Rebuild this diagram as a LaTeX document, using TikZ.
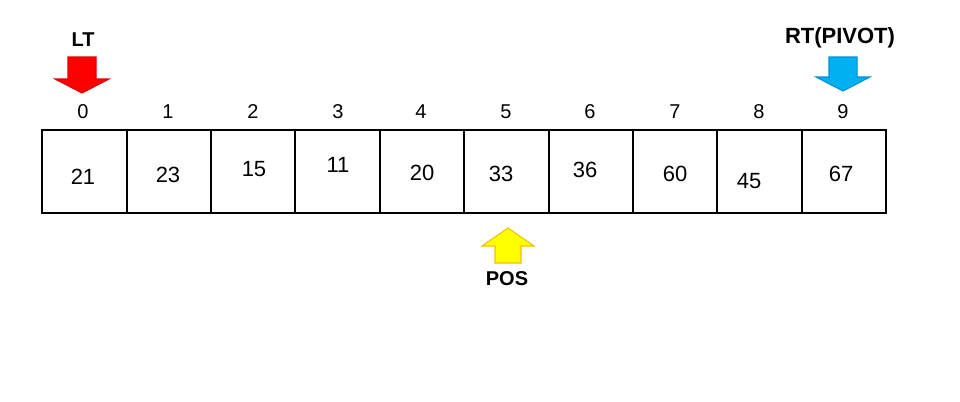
\documentclass[tikz,border=0pt]{standalone}
\usepackage{fontspec}
\setmainfont{Liberation Sans}
\definecolor{arrred}{HTML}{FF0000}
\definecolor{arrredline}{HTML}{E00000}
\definecolor{arrblue}{HTML}{00B0F0}
\definecolor{arrblueline}{HTML}{0090D8}
\definecolor{arryellow}{HTML}{FFFF00}
\definecolor{arryellowline}{HTML}{F5C000}
\begin{document}
\begin{tikzpicture}[x=0.75pt,y=-0.75pt,
  cell/.style={draw=black, line width=1.5pt, minimum width=63.3pt, minimum height=62.25pt, inner sep=0pt, outer sep=0pt},
  val/.style={font=\fontsize{16.5}{19}\selectfont, inner sep=0pt},
  idx/.style={font=\fontsize{15}{17}\selectfont, inner sep=0pt},
  tag/.style={font=\bfseries\fontsize{15}{18}\selectfont, inner sep=0pt},
  arrow shape/.style={line width=0.8pt, line join=miter}]
\useasboundingbox (0,0) rectangle (960,401);
% cells
\foreach \i in {0,...,9} {
  \node[cell] (c\i) at ({84.4+84.4*\i},171.5) {};
}
% indices
\node[idx] (i0) at (83,112) {0};
\node[idx] (i1) at (168,112) {1};
\node[idx] (i2) at (253,112) {2};
\node[idx] (i3) at (338,112) {3};
\node[idx] (i4) at (421,112) {4};
\node[idx] (i5) at (506,112) {5};
\node[idx] (i6) at (590,112) {6};
\node[idx] (i7) at (675,112) {7};
\node[idx] (i8) at (759,112) {8};
\node[idx] (i9) at (843,112) {9};
% values
\node[val] (v0) at (83,177) {21};
\node[val] (v1) at (168,175) {23};
\node[val] (v2) at (254,169) {15};
\node[val] (v3) at (338,165) {11};
\node[val] (v4) at (422,173) {20};
\node[val] (v5) at (501,174) {33};
\node[val] (v6) at (585,170) {36};
\node[val] (v7) at (675,174) {60};
\node[val] (v8) at (749,181) {45};
\node[val] (v9) at (841,174) {67};
% labels
\node[tag] (lt) at (83,40) {LT};
\node[tag, font=\bfseries\fontsize{16.5}{19}\selectfont] (rt) at (840,38) {RT(PIVOT)};
\node[tag] (pos) at (507,279) {POS};
% arrows
\draw[arrow shape, fill=arrred, draw=arrredline]
  (68,57) -- (96,57) -- (96,79) -- (109,79) -- (82,93) -- (55,79) -- (68,79) -- cycle;
\draw[arrow shape, fill=arrblue, draw=arrblueline]
  (829,57) -- (857,57) -- (857,77) -- (870,77) -- (843,91) -- (816,77) -- (829,77) -- cycle;
\draw[arrow shape, fill=arryellow, draw=arryellowline]
  (508,228) -- (534,246) -- (521,246) -- (521,263) -- (495,263) -- (495,246) -- (482,246) -- cycle;
\end{tikzpicture}
\end{document}
